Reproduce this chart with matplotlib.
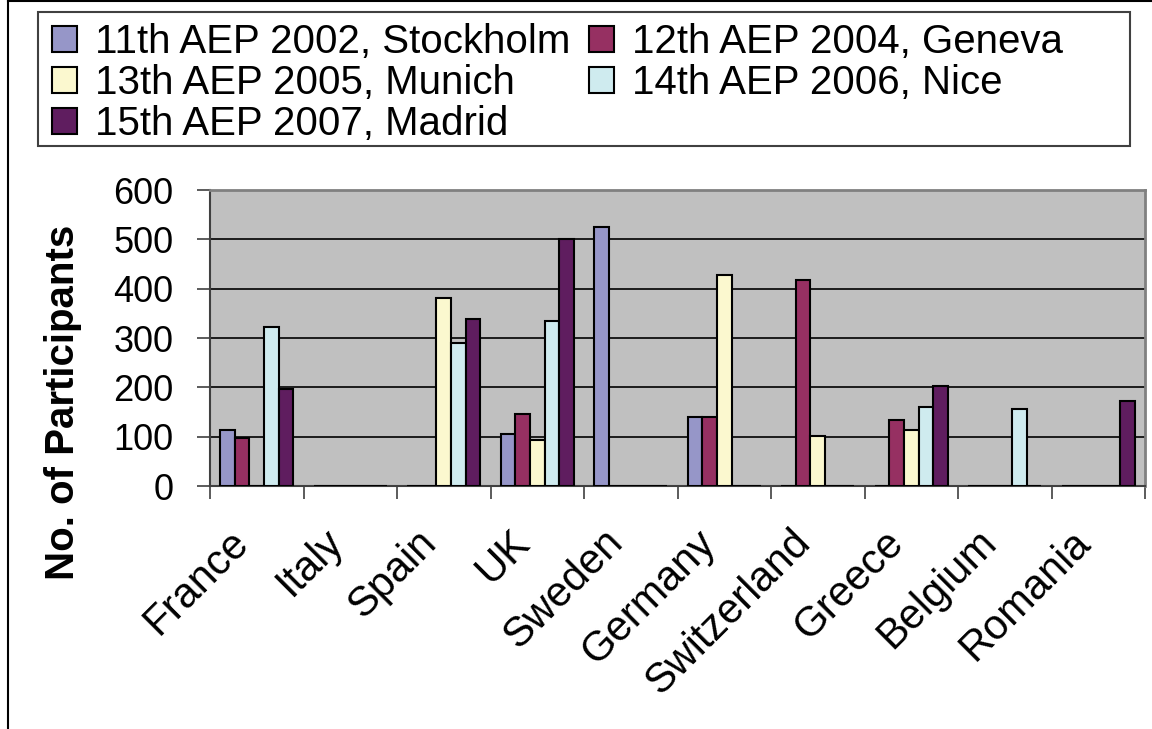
import numpy as np
import matplotlib.pyplot as plt
from matplotlib.lines import Line2D
from matplotlib.patches import Rectangle
from matplotlib import transforms

plt.rcParams['font.family'] = ['Liberation Sans', 'DejaVu Sans']

countries = ['France', 'Italy', 'Spain', 'UK', 'Sweden', 'Germany',
             'Switzerland', 'Greece', 'Belgium', 'Romania']
series_names = ['11th AEP 2002, Stockholm', '12th AEP 2004, Geneva',
                '13th AEP 2005, Munich', '14th AEP 2006, Nice',
                '15th AEP 2007, Madrid']
stockholm = [114, 0, 0, 105, 524, 140, 0, 0, 0, 0]
geneva = [98, 0, 0, 145, 0, 140, 418, 134, 0, 0]
munich = [0, 0, 382, 93, 0, 428, 101, 114, 0, 0]
nice = [323, 0, 290, 334, 0, 0, 0, 161, 157, 0]
madrid = [196, 0, 338, 500, 0, 0, 0, 203, 0, 173]
colors = ['#9696C8', '#963062', '#FBF8CF', '#CFEBEF', '#5F1D5F']

fig = plt.figure(figsize=(11.52, 7.29), dpi=100)
ax = fig.add_axes([210/1152, 1-486/729, 935/1152, 296/729])
ax.set_facecolor('#C0C0C0')

x = np.arange(len(countries)) + 0.5
w = 0.156
for k, vals in enumerate([stockholm, geneva, munich, nice, madrid]):
    ax.bar(x + (k - 2) * w, vals, w, color=colors[k], edgecolor='black',
           linewidth=1.5, label=series_names[k], zorder=3)

ax.set_xlim(0, len(countries))
ax.set_ylim(0, 600)
ax.set_yticks(range(0, 601, 100))
ax.yaxis.grid(True, color='black', linewidth=1.2, zorder=1)
ax.tick_params(axis='y', labelsize=26, length=9.4, width=1.2, pad=17,
               direction='out', color='#404040')

# category boundaries get the tick marks, centres get the names
ax.set_xticks(range(0, len(countries) + 1))
ax.set_xticklabels([])
ax.set_xticks(x, minor=True)
ax.set_xticklabels(countries, minor=True, rotation=45, ha='right',
                   va='top', rotation_mode='anchor', fontsize=30)
ax.tick_params(axis='x', which='major', length=9.4, width=1.2,
               direction='out', color='#404040')
ax.tick_params(axis='x', which='minor', length=0, pad=26)
off = transforms.ScaledTranslation(-28/100, 0, fig.dpi_scale_trans)
for lab in ax.get_xticklabels(minor=True):
    lab.set_transform(lab.get_transform() + off)

for s in ['top', 'right']:
    ax.spines[s].set_color('#808080')
    ax.spines[s].set_linewidth(2)
for s in ['left', 'bottom']:
    ax.spines[s].set_color('#404040')
    ax.spines[s].set_linewidth(1.5)

fig.text(63/1152, 1-402/729, 'No. of Participants', rotation=90,
         ha='center', va='center', fontsize=29, fontweight='bold')

# legend (row-wise order like the original)
fig.patches.append(Rectangle((38/1152, 1-146/729), (1130-38)/1152, 134/729,
                             transform=fig.transFigure, fill=False,
                             edgecolor='#404040', linewidth=1.5))
handles, labels = ax.get_legend_handles_labels()
order = [0, 2, 4, 1, 3]
fig.legend([handles[i] for i in order], [labels[i] for i in order], ncol=2,
           loc='upper left', bbox_to_anchor=(44/1152, 1-15/729),
           frameon=False, fontsize=29, borderaxespad=0,
           handlelength=0.62, handleheight=0.62, handletextpad=0.45,
           labelspacing=0.08, columnspacing=0.45, borderpad=0.2)

# outer chart border
fig.add_artist(Line2D([8/1152, 8/1152], [0, 1-1/729], color='black',
                      linewidth=1.5, transform=fig.transFigure))
fig.add_artist(Line2D([8/1152, 1], [1-1/729, 1-1/729], color='black',
                      linewidth=1.5, transform=fig.transFigure))

fig.savefig('out.png', dpi=100)
